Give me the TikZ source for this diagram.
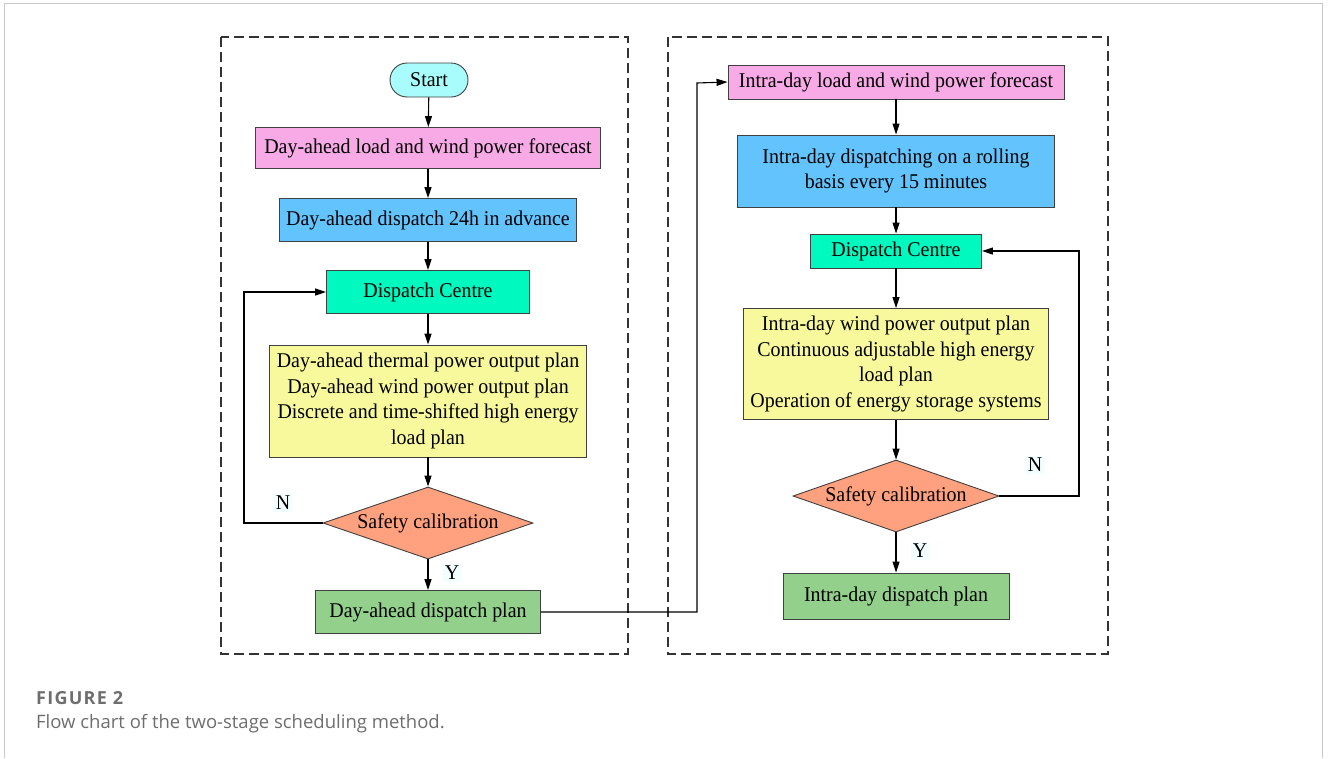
\documentclass[tikz,border=0pt]{standalone}
\usepackage{fontspec}
\setmainfont{Liberation Serif}[FakeStretch=0.95]
\newfontfamily\capfont{Open Sans}
\newfontfamily\capfontsp{Open Sans}[LetterSpace=7]
\usetikzlibrary{arrows.meta,shapes.geometric,shapes.misc,positioning}
\definecolor{cstart}{HTML}{A8FCFC}
\definecolor{cpink}{HTML}{F7AAE6}
\definecolor{cblue}{HTML}{63C3FC}
\definecolor{cteal}{HTML}{00F9BF}
\definecolor{cyel}{HTML}{F8F99C}
\definecolor{csal}{HTML}{FFA07F}
\definecolor{cgreen}{HTML}{93D08B}
\definecolor{cframe}{HTML}{C8C8C8}
\definecolor{ccap}{HTML}{6E6E6E}
\definecolor{clab}{HTML}{F2FEFE}
\tikzset{
  box/.style={draw=black!75, line width=0.9pt, inner sep=2pt, align=center, font=\fontsize{21}{25.5}\selectfont},
  startbox/.style={box, rounded rectangle, fill=cstart},
  dia/.style={draw=black!75, line width=0.9pt, diamond, aspect=2.9, inner sep=1pt, fill=csal, font=\fontsize{21}{25}\selectfont},
  conn/.style={line width=1.1pt, -{Triangle[length=11pt,width=7pt]}},
  grp/.style={draw=black!80, line width=1.4pt, dash pattern=on 10pt off 5pt},
  lab/.style={fill=clab, inner sep=2pt, font=\fontsize{21}{25}\selectfont}
}
\begin{document}
\begin{tikzpicture}[x=1pt,y=-1pt]
\useasboundingbox (0,0) rectangle (1328,758);
\fill[white] (0,0) rectangle (1328,758);
% outer frame
\draw[cframe, line width=1pt] (4,758) -- (4,3.5) -- (1322,3.5) -- (1322,758);
% group boxes
\draw[grp] (221,37) rectangle (628,654);
\draw[grp] (668,37) rectangle (1108,654);
% left column
\node[startbox, minimum width=82pt, minimum height=34pt] (start) at (429,80) {Start};
\node[box, fill=cpink, minimum width=345pt, minimum height=41pt] (f1) at (428,148) {Day-ahead load and wind power forecast};
\node[box, fill=cblue, minimum width=297pt, minimum height=43pt] (d1) at (428,220) {Day-ahead dispatch 24h in advance};
\node[box, fill=cteal, minimum width=203pt, minimum height=43pt] (c1) at (428,292) {Dispatch Centre};
\node[box, fill=cyel, minimum width=317pt, minimum height=112pt] (p1) at (428,401) {Day-ahead thermal power output plan\\Day-ahead wind power output plan\\Discrete and time-shifted high energy\\load plan};
\node[dia, minimum width=210pt, minimum height=72pt] (s1) at (428,523) {Safety calibration};
\node[box, fill=cgreen, minimum width=225pt, minimum height=43pt] (g1) at (428,612) {Day-ahead dispatch plan};
% right column
\node[box, fill=cpink, minimum width=336pt, minimum height=34pt] (f2) at (896,82) {Intra-day load and wind power forecast};
\node[box, fill=cblue, minimum width=317pt, minimum height=72pt] (d2) at (896,171) {Intra-day dispatching on a rolling\\basis every 15 minutes};
\node[box, fill=cteal, minimum width=171pt, minimum height=34pt] (c2) at (896,251) {Dispatch Centre};
\node[box, fill=cyel, minimum width=305pt, minimum height=111pt] (p2) at (896,364) {Intra-day wind power output plan\\Continuous adjustable high energy\\load plan\\Operation of energy storage systems};
\node[dia, minimum width=206pt, minimum height=72pt] (s2) at (896,496) {Safety calibration};
\node[box, fill=cgreen, minimum width=226pt, minimum height=46pt] (g2) at (896,596) {Intra-day dispatch plan};
% connectors left
\draw[conn] (start) -- (f1);
\draw[conn] (f1) -- (d1);
\draw[conn] (d1) -- (c1);
\draw[conn] (c1) -- (p1);
\draw[conn] (p1) -- (s1);
\draw[conn] (s1) -- (g1);
\coordinate (l1) at (244,523);
\coordinate (l2) at (244,292);
\draw[conn] (s1.west) -- (l1) -- (l2) -- (c1.west);
% cross connector
\coordinate (m1) at (697,612);
\coordinate (m2) at (697,83);
\draw[conn] (g1.east) -- (m1) -- (m2) -- (f2.west);
% connectors right
\draw[conn] (f2) -- (d2);
\draw[conn] (d2) -- (c2);
\draw[conn] (c2) -- (p2);
\draw[conn] (p2) -- (s2);
\draw[conn] (s2) -- (g2);
\coordinate (r1) at (1079,496);
\coordinate (r2) at (1079,251);
\draw[conn] (s2.east) -- (r1) -- (r2) -- (c2.east);
% labels
\node[lab] (n1) at (283,503) {N};
\node[lab] (y1) at (452,573) {Y};
\node[lab] (n2) at (1035,465) {N};
\node[lab] (y2) at (920,551) {Y};
% caption
\node[anchor=base west, inner sep=0, text=ccap, font=\capfontsp\fontsize{18}{21}\selectfont\bfseries] (cap1) at (36,704) {FIGURE 2};
\node[anchor=base west, inner sep=0, text=ccap, font=\capfont\fontsize{18.5}{21}\selectfont] (cap2) at (36,728) {Flow chart of the two-stage scheduling method.};
\end{tikzpicture}
\end{document}
